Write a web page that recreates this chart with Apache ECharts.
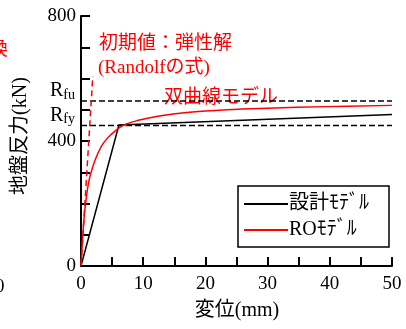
<!DOCTYPE html>
<html><head><meta charset="utf-8">
<script src="https://cdn.jsdelivr.net/npm/echarts@6/dist/echarts.min.js"></script>
<style>html,body{margin:0;padding:0;background:#fff}#c{width:406px;height:329px}</style>
</head><body><div id="c"></div>
<script>
const designX = [0, 6.1, 50];
const designY = [0, 451, 485];
const roX = [0, 0.25, 0.5, 0.8, 1.25, 1.9, 2.7, 3.6, 4.8, 6.7, 9.4, 12.6, 17, 23.4, 30, 39.5, 50];
const roY = [0, 85, 155, 210, 270, 318, 360, 393, 420, 449, 467, 480, 491, 500, 505, 510, 514];
const randolfX = [0, 1.9];
const randolfY = [0, 608];
const Rfu = 528;
const Rfy = 450;
const yLabels = [0, 400, 800];
const xLabels = [0, 10, 20, 30, 40, 50];

const FONT = "'Liberation Serif', 'Noto Sans CJK JP', serif";
const RED = '#ff0000';
const zip = (a, b) => a.map((v, i) => [v, b[i]]);

const chart = echarts.init(document.getElementById('c'), null, {renderer: 'canvas'});
const option = {
  animation: false,
  backgroundColor: '#fff',
  grid: {left: 81, right: 14, top: 16, bottom: 63, containLabel: false},
  xAxis: {
    type: 'value', min: 0, max: 50, interval: 5,
    axisLine: {show: true, onZero: false, lineStyle: {color: '#000', width: 2}},
    axisTick: {show: true, inside: true, length: 9, lineStyle: {color: '#000', width: 2}},
    splitLine: {show: false},
    axisLabel: {color: '#000', fontFamily: FONT, fontSize: 19, margin: 9,
      formatter: v => xLabels.includes(v) ? String(v) : ''}
  },
  yAxis: {
    type: 'value', min: 0, max: 800, interval: 100,
    axisLine: {show: true, onZero: false, lineStyle: {color: '#000', width: 2}},
    axisTick: {show: true, inside: true, length: 9, lineStyle: {color: '#000', width: 2}},
    splitLine: {show: false},
    axisLabel: {color: '#000', fontFamily: FONT, fontSize: 19, margin: 5,
      formatter: v => yLabels.includes(v) ? String(v) : ''}
  },
  legend: {
    show: true, orient: 'vertical', left: 238, top: 186,
    data: ['設計ﾓﾃﾞﾙ', 'ROﾓﾃﾞﾙ'],
    backgroundColor: '#fff', borderColor: '#000', borderWidth: 1.5, borderRadius: 0,
    padding: [8, 20, 7, 5], itemGap: 6, itemWidth: 44, itemHeight: 16,
    textStyle: {color: '#000', fontFamily: FONT, fontSize: 20, padding: [0, 0, 0, -4]},
    itemStyle: {opacity: 0}
  },
  series: [
    {name: 'Rfu', type: 'line', data: [[0, Rfu], [50, Rfu]], symbol: 'none', silent: true,
      lineStyle: {color: '#000', width: 1.5, type: [6, 3]}, z: 1},
    {name: 'Rfy', type: 'line', data: [[0, Rfy], [50, Rfy]], symbol: 'none', silent: true,
      lineStyle: {color: '#000', width: 1.5, type: [6, 3]}, z: 1},
    {name: 'Randolf', type: 'line', data: zip(randolfX, randolfY), symbol: 'none',
      lineStyle: {color: RED, width: 1.5, type: [6, 4]}, z: 2},
    {name: '設計ﾓﾃﾞﾙ', type: 'line', data: zip(designX, designY), symbol: 'none',
      color: '#000', lineStyle: {color: '#000', width: 1.5}, z: 3},
    {name: 'ROﾓﾃﾞﾙ', type: 'line', data: zip(roX, roY), symbol: 'none', smooth: 0.4,
      color: RED, lineStyle: {color: RED, width: 1.5}, z: 4}
  ]
};
chart.setOption(option);

const pFu = chart.convertToPixel({gridIndex: 0}, [0, Rfu]);
const pFy = chart.convertToPixel({gridIndex: 0}, [0, Rfy]);
const rich = {
  R: {fontFamily: FONT, fontSize: 20, fill: '#000'},
  s: {fontFamily: FONT, fontSize: 14, fill: '#000', verticalAlign: 'bottom', padding: [8, 0, 0, 0]}
};
chart.setOption({
  graphic: [
    {type: 'text', left: 50, top: pFu[1] - 20, style: {text: '{R|R}{s|fu}', rich: rich, fill: '#000'}},
    {type: 'text', left: 50, top: pFy[1] - 20, style: {text: '{R|R}{s|fy}', rich: rich, fill: '#000'}},
    {type: 'text', x: 99, y: 44, style: {text: '初期値：弾性解', fontFamily: FONT, fontSize: 19, fill: RED, verticalAlign: 'middle'}},
    {type: 'text', x: 98, y: 68, style: {text: '(Randolfの式)', fontFamily: FONT, fontSize: 19, fill: RED, verticalAlign: 'middle'}},
    {type: 'text', x: 164, y: 98, style: {text: '双曲線モデル', fontFamily: FONT, fontSize: 19, fill: RED, verticalAlign: 'middle'}},
    {type: 'text', x: 21, y: 136, rotation: Math.PI / 2, style: {text: '地盤反力(kN)', fontFamily: FONT, fontSize: 20, fill: '#000', align: 'center', verticalAlign: 'middle'}},
    {type: 'text', x: 237, y: 311, style: {text: '変位(mm)', fontFamily: FONT, fontSize: 20, fill: '#000', align: 'center', verticalAlign: 'middle'}},
    {type: 'text', x: -11, y: 50, style: {text: '換', fontFamily: FONT, fontSize: 19, fill: RED, verticalAlign: 'middle'}},
    {type: 'text', x: -5, y: 287, style: {text: '0', fontFamily: FONT, fontSize: 19, fill: '#000', verticalAlign: 'middle'}}
  ]
});
</script></body></html>
